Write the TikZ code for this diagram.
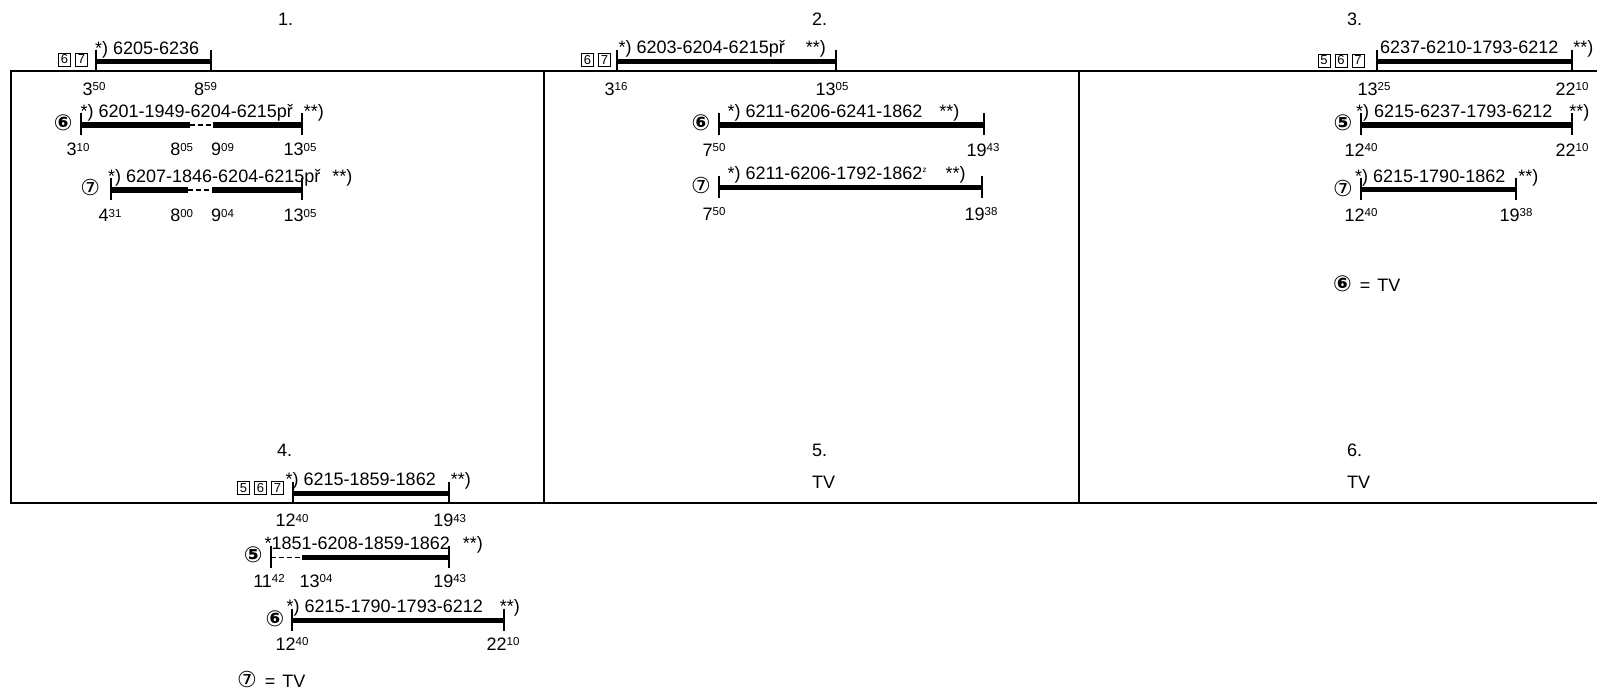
\documentclass[tikz,border=0pt]{standalone}
\usepackage{fontspec}
\setmainfont{Liberation Sans}
\newfontfamily\cerchi{DejaVu Sans}
\usetikzlibrary{positioning}

% orario con i minuti in apice
\newcommand{\ora}[2]{#1\raisebox{4.5pt}{\fontsize{11.5}{12}\selectfont #2}}

\tikzset{
    testo/.style={inner sep=0pt, anchor=base west, font=\fontsize{18}{21}\selectfont},
    orario/.style={inner sep=0pt, anchor=base, font=\fontsize{18}{21}\selectfont},
    cerchio/.style={inner sep=0pt, font=\cerchi\fontsize{22}{24}\selectfont},
    casella/.style={draw, line width=1pt, inner sep=0pt, minimum width=12pt, minimum height=13pt, font=\fontsize{13}{13}\selectfont},
    barra/.style={line width=5.2pt},
    pausa/.style={line width=1.2pt, dash pattern=on 5pt off 3pt},
    tacca/.style={line width=1.2pt},
    cornice/.style={line width=1.6pt}
}

\begin{document}
\begin{tikzpicture}[x=1pt, y=-1pt]
    \useasboundingbox (0,0) rectangle (1597,691);

    % Cornice a tre colonne
    \draw[cornice] (1597,71) -- (10.7,71) -- (10.7,503) -- (1597,503);
    \foreach \x in {544,1079}
        \draw[cornice] (\x,71) -- (\x,503);

    % Titoli
    \foreach \x/\y/\t [count=\i] in {278/25/1., 812/25/2., 1347/25/3., 277/456.5/4., 812/456.5/5., 1347/456.5/6., 812/488.5/TV, 1347/488.5/TV}
        \node[testo] (tit\i) at (\x,\y) {\t};

    % Barre piene
    \foreach \a/\b/\y in {96/211/61.5, 81/190/125, 213/302/125, 111/188/190, 212/302/190,
        617/836/61.5, 719/984/125, 719/982/187.5,
        1377/1572/61.5, 1361/1572/125, 1361/1516/189.5,
        293/449/493.5, 302/449/557.5, 292/504/620.5}
        \draw[barra] (\a,\y) -- (\b,\y);

    % Tratti interrotti
    \foreach \a/\b/\y in {190/213/125, 188/212/190, 271/302/557.5}
        \draw[pausa] (\a,\y) -- (\b,\y);

    % Tacche agli estremi
    \foreach \x/\y in {96/61.5, 211/61.5, 81/125, 302/125, 111/190, 302/190,
        617/61.5, 836/61.5, 719/125, 984/125, 719/187.5, 982/187.5,
        1377/61.5, 1572/61.5, 1361/125, 1572/125, 1361/189.5, 1516/189.5,
        293/493.5, 449/493.5, 271/557.5, 449/557.5, 292/620.5, 504/620.5}
        \draw[tacca] (\x,\y-12) -- (\x,\y+10);

    % Caselle dei giorni
    \node[casella] (k1b) at (81.5,59.5) {7};
    \node[casella, left=4pt of k1b] (k1a) {6};
    \node[casella] (k2b) at (604.5,60) {7};
    \node[casella, left=4pt of k2b] (k2a) {6};
    \node[casella] (k3c) at (1358,60.5) {7};
    \node[casella, left=4pt of k3c] (k3b) {6};
    \node[casella, left=4pt of k3b] (k3a) {5};
    \node[casella] (k4c) at (277.5,488) {7};
    \node[casella, left=4pt of k4c] (k4b) {6};
    \node[casella, left=4pt of k4b] (k4a) {5};

    % Giorni cerchiati
    \node[cerchio] (c1s) at (63.3,123) {\bfseries ⑥};
    \node[cerchio] (c1t) at (90.3,187) {⑦};
    \node[cerchio] (c2s) at (701,122.5) {\bfseries ⑥};
    \node[cerchio] (c2t) at (701,185.5) {⑦};
    \node[cerchio] (c3c) at (1343,123) {\bfseries ⑤};
    \node[cerchio] (c3t) at (1343,188) {⑦};
    \node[cerchio] (c4c) at (253.3,555) {\bfseries ⑤};
    \node[cerchio] (c4s) at (275,619) {\bfseries ⑥};

    % Treni sopra le barre
    \node[testo] (t1) at (95,54) {*) 6205-6236};
    \node[testo] (t1s) at (80.5,117) {*) 6201-1949-6204-6215př\hspace{11pt}**)};
    \node[testo] (t1t) at (108,182.5) {*) 6207-1846-6204-6215př\hspace{12pt}**)};
    \node[testo] (t2) at (618.5,53.5) {*) 6203-6204-6215př\hspace{21pt}**)};
    \node[testo] (t2s) at (727.5,117) {*) 6211-6206-6241-1862\hspace{17pt}**)};
    \node[testo] (t2t) at (727.5,179.5) {*) 6211-6206-1792-1862\raisebox{7pt}{\fontsize{8}{8}\selectfont z}\hspace{19pt}**)};
    \node[testo] (t3) at (1380,53.5) {6237-6210-1793-6212\hspace{15pt}**)};
    \node[testo] (t3c) at (1356,117) {*) 6215-6237-1793-6212\hspace{17pt}**)};
    \node[testo] (t3t) at (1355,182) {*) 6215-1790-1862\hspace{13pt}**)};
    \node[testo] (t4) at (285.5,485.5) {*) 6215-1859-1862\hspace{15pt}**)};
    \node[testo] (t4c) at (264.5,549.5) {*1851-6208-1859-1862\hspace{13pt}**)};
    \node[testo] (t4s) at (286.5,612.5) {*) 6215-1790-1793-6212\hspace{17pt}**)};

    % Orari sotto le barre
    \foreach \x/\y/\h/\m [count=\i] in {94/95/3/50, 205.5/95/8/59,
        78/155.7/3/10, 181.7/155.7/8/05, 222.5/155.7/9/09, 300/155.7/13/05,
        110/221.7/4/31, 181.7/221.7/8/00, 222.5/221.7/9/04, 300/221.7/13/05,
        616/95/3/16, 832/95/13/05, 714/156/7/50, 983/156/19/43, 714/220/7/50, 981/220/19/38,
        1374/95/13/25, 1572/95/22/10, 1361/156/12/40, 1572/156/22/10, 1361/221/12/40, 1516/221/19/38,
        292/526.5/12/40, 449.7/526.5/19/43,
        269/587/11/42, 316/587/13/04, 449.7/587/19/43,
        292/650/12/40, 503/650/22/10}
        \node[orario] (ora\i) at (\x,\y) {\ora{\h}{\m}};

    % Legende
    \node[testo] (leg3) at (1333,291) {{\cerchi\fontsize{22}{24}\selectfont\bfseries ⑥}\hspace{8pt}=\hspace{7pt}TV};
    \node[testo] (leg4) at (237,687) {{\cerchi\fontsize{22}{24}\selectfont ⑦}\hspace{8pt}=\hspace{7pt}TV};
\end{tikzpicture}
\end{document}
